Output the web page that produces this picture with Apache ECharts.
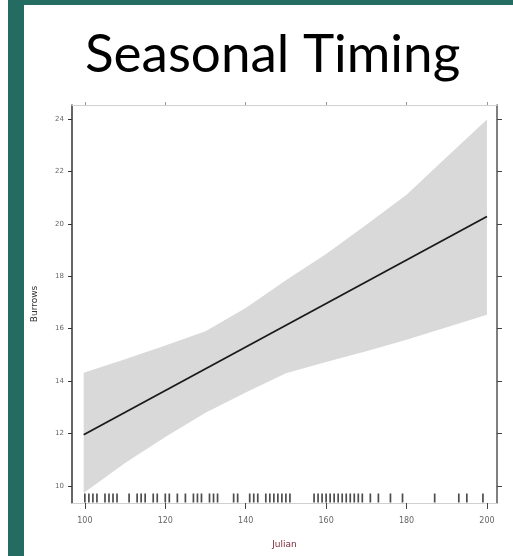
<!DOCTYPE html>
<html>
<head>
<meta charset="utf-8">
<script src="https://cdn.jsdelivr.net/npm/echarts@6/dist/echarts.min.js"></script>
<style>
  html, body { margin: 0; padding: 0; background: #fff; }
  #chart { width: 513px; height: 556px; }
</style>
</head>
<body>
<div id="chart"></div>
<script>
// fitted line (Julian day -> burrows)
const lineX = [99.7, 200]
const lineY = [11.95, 20.28]

// confidence band
const bandX = [99.7, 110, 120, 130, 140, 150, 160, 170, 180, 190, 200]
const bandUpper = [14.32, 14.83, 15.36, 15.9, 16.79, 17.85, 18.85, 19.96, 21.11, 22.55, 23.98]
const bandLower = [9.73, 10.88, 11.87, 12.79, 13.56, 14.3, 14.73, 15.14, 15.58, 16.05, 16.53]

// observed days (rug)
const rugDays = [100, 101, 102, 103, 105, 106, 107, 108, 111, 113, 114, 115, 117, 118, 120, 121,
  123, 125, 127, 128, 129, 131, 132, 133, 137, 138, 141, 142, 143, 145, 146, 147, 148, 149, 150,
  151, 157, 158, 159, 160, 161, 162, 163, 164, 165, 166, 167, 168, 169, 171, 173, 176, 179, 187,
  193, 195, 199]

const xTicks = [100, 120, 140, 160, 180, 200]
const yTicks = [10, 12, 14, 16, 18, 20, 22, 24]
const xMin = 96.8, xMax = 202.5
const yMin = 9.35, yMax = 24.53

const chart = echarts.init(document.getElementById('chart'))

const option = {
  animation: false,
  title: {
    text: 'Seasonal Timing',
    left: 80,
    top: 23,
    textStyle: { fontFamily: 'Lato', fontWeight: 'normal', fontSize: 53, color: '#000' }
  },
  graphic: [
    { type: 'rect', shape: { x: 8, y: 0, width: 505, height: 5 }, style: { fill: '#246b62' } },
    { type: 'rect', shape: { x: 8, y: 0, width: 16, height: 556 }, style: { fill: '#246b62' } }
  ],
  grid: { left: 72, right: 16, top: 105, bottom: 53 },
  xAxis: [
    {
      type: 'value', min: xMin, max: xMax, position: 'bottom',
      name: 'Julian', nameLocation: 'middle', nameGap: 37,
      nameTextStyle: { color: '#7a2a3a', fontSize: 9, fontFamily: 'DejaVu Sans' },
      axisLine: { lineStyle: { color: '#d0d0d0' } },
      axisTick: { customValues: xTicks, length: 6, lineStyle: { color: '#444' } },
      axisLabel: { customValues: xTicks, fontSize: 8, color: '#666', margin: 14, fontFamily: 'DejaVu Sans' },
      splitLine: { show: false }
    },
    {
      type: 'value', min: xMin, max: xMax, position: 'top',
      axisLine: { lineStyle: { color: '#d0d0d0' } },
      axisTick: { customValues: xTicks, length: 3, lineStyle: { color: '#999' } },
      axisLabel: { show: false },
      splitLine: { show: false }
    }
  ],
  yAxis: [
    {
      type: 'value', min: yMin, max: yMax, position: 'left',
      name: 'Burrows', nameLocation: 'middle', nameGap: 33,
      nameTextStyle: { color: '#333', fontSize: 9, fontFamily: 'DejaVu Sans' },
      axisLine: { show: true, lineStyle: { color: '#333', width: 1.5 } },
      axisTick: { customValues: yTicks, length: 4, lineStyle: { color: '#333' } },
      axisLabel: { customValues: yTicks, fontSize: 7, color: '#666', margin: 8, fontFamily: 'DejaVu Sans' },
      splitLine: { show: false }
    },
    {
      type: 'value', min: yMin, max: yMax, position: 'right',
      axisLine: { show: true, lineStyle: { color: '#555', width: 1.5 } },
      axisTick: { customValues: yTicks, length: 5, lineStyle: { color: '#444' } },
      axisLabel: { show: false },
      splitLine: { show: false }
    }
  ],
  series: [
    {
      type: 'custom',
      silent: true,
      data: [[bandX[0], bandLower[0]]],
      renderItem: function (params, api) {
        const pts = []
        for (let i = 0; i < bandX.length; i++) pts.push(api.coord([bandX[i], bandUpper[i]]))
        for (let i = bandX.length - 1; i >= 0; i--) pts.push(api.coord([bandX[i], bandLower[i]]))
        return { type: 'polygon', shape: { points: pts }, style: { fill: '#d9d9d9' } }
      }
    },
    {
      type: 'line',
      data: lineX.map((x, i) => [x, lineY[i]]),
      symbol: 'none',
      lineStyle: { color: '#1a1a1a', width: 1.8 },
      z: 3
    },
    {
      type: 'scatter',
      data: rugDays.map((d) => [d, yMin]),
      symbol: 'rect',
      symbolSize: [1.7, 9],
      symbolOffset: [0, -5],
      itemStyle: { color: '#1f1f1f' },
      z: 4
    }
  ]
}

chart.setOption(option)
</script>
</body>
</html>
